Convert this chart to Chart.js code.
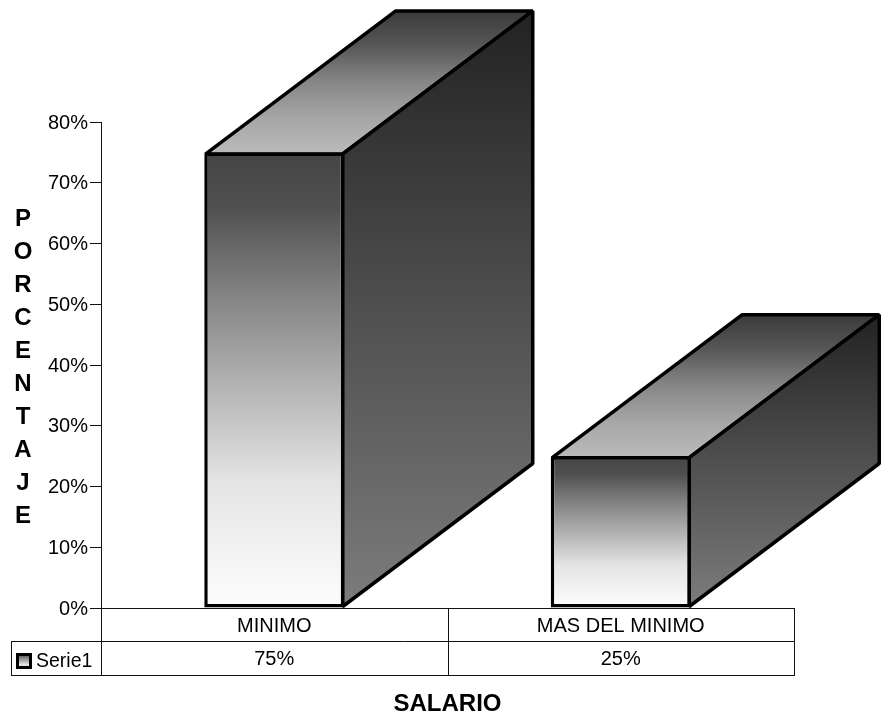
<!DOCTYPE html>
<html lang="es">
<head>
<meta charset="utf-8">
<title>Salario</title>
<script src="https://cdn.jsdelivr.net/npm/chart.js@4"></script>
<style>
    html, body { margin: 0; padding: 0; background: #fff; }
    canvas { display: block; }
</style>
</head>
<body>
<canvas id="salarioChart" width="885" height="720"></canvas>
<script>
// Datos del grafico
const categorias = ['MINIMO', 'MAS DEL MINIMO'];
const valores = [75, 25];
const serieNombre = 'Serie1';
const tituloX = 'SALARIO';
const tituloY = ['P', 'O', 'R', 'C', 'E', 'N', 'T', 'A', 'J', 'E'];

const FUENTE = '"Liberation Sans", Arial, sans-serif';
const PROF_X = 190;   // profundidad de la barra 3D
const PROF_Y = 143;

function degradado(ctx, y0, y1, paradas) {
    const g = ctx.createLinearGradient(0, y0, 0, y1);
    paradas.forEach(([pos, color]) => g.addColorStop(pos, color));
    return g;
}

const paradasFrente = [[0, '#444'], [0.12, '#505050'], [0.3, '#808080'], [0.5, '#b0b0b0'], [0.72, '#e4e4e4'], [1, '#fdfdfd']];
const paradasTapa = [[0, '#3a3a3a'], [0.25, '#585858'], [0.5, '#878787'], [0.75, '#a6a6a6'], [1, '#bbb']];
const paradasLado = [[0, '#222'], [1, '#7c7c7c']];

function rellenarCara(ctx, puntos, fill) {
    ctx.beginPath();
    puntos.forEach(([x, y], i) => (i ? ctx.lineTo(x, y) : ctx.moveTo(x, y)));
    ctx.closePath();
    ctx.fillStyle = fill;
    ctx.fill();
    ctx.stroke();
}

// Caras superior y lateral, se pintan antes del frente de la barra
const caras3D = {
    id: 'caras3D',
    beforeDatasetsDraw(chart) {
        const ctx = chart.ctx;
        ctx.save();
        ctx.strokeStyle = '#000';
        ctx.lineWidth = 3.5;
        ctx.lineJoin = 'bevel';
        chart.getDatasetMeta(0).data.forEach(bar => {
            const izq = bar.x - bar.width / 2 + 1.5;
            const der = bar.x + bar.width / 2 - 1.5;
            const sup = bar.y + 1.5;
            const inf = bar.base - 1;
            rellenarCara(ctx, [[izq, sup], [der, sup], [der + PROF_X, sup - PROF_Y], [izq + PROF_X, sup - PROF_Y]],
                degradado(ctx, sup - PROF_Y, sup, paradasTapa));
            rellenarCara(ctx, [[der, sup], [der + PROF_X, sup - PROF_Y], [der + PROF_X, inf - PROF_Y], [der, inf]],
                degradado(ctx, sup - PROF_Y, inf, paradasLado));
        });
        ctx.restore();
    }
};

// Tabla de datos bajo el eje X y titulos
const tablaDatos = {
    id: 'tablaDatos',
    afterDraw(chart) {
        const ctx = chart.ctx;
        const x = chart.scales.x;
        const yTop = chart.scales.y.bottom;
        const filaTop = yTop + 33;
        const filaBase = yTop + 67;
        const tablaIzq = 11;
        const mitad = (x.left + x.right) / 2;

        ctx.save();
        ctx.strokeStyle = '#111';
        ctx.lineWidth = 1;
        ctx.beginPath();
        [x.left, mitad, x.right].forEach(px => {
            const p = Math.round(px) + 0.5;
            ctx.moveTo(p, yTop);
            ctx.lineTo(p, filaBase);
        });
        ctx.moveTo(tablaIzq + 0.5, filaTop + 0.5);
        ctx.lineTo(x.right + 1, filaTop + 0.5);
        ctx.moveTo(tablaIzq + 0.5, filaTop);
        ctx.lineTo(tablaIzq + 0.5, filaBase);
        ctx.moveTo(tablaIzq, filaBase + 0.5);
        ctx.lineTo(x.right + 1, filaBase + 0.5);
        ctx.stroke();

        ctx.fillStyle = '#000';
        ctx.font = '20px ' + FUENTE;
        ctx.textBaseline = 'middle';
        ctx.textAlign = 'center';
        valores.forEach((v, i) => {
            ctx.fillText(v + '%', x.getPixelForTick(i), filaTop + 18);
        });

        // Leyenda dentro de la tabla
        ctx.font = '19.5px ' + FUENTE;
        ctx.textAlign = 'left';
        ctx.fillText(serieNombre, 36, filaTop + 21);
        ctx.fillStyle = degradado(ctx, filaTop + 12, filaTop + 28, paradasFrente);
        ctx.fillRect(16, filaTop + 12, 16, 16);
        ctx.lineWidth = 3;
        ctx.strokeStyle = '#000';
        ctx.strokeRect(17.5, filaTop + 13.5, 13, 13);

        // Titulo vertical, letra por letra
        ctx.font = 'bold 24px ' + FUENTE;
        ctx.textAlign = 'center';
        ctx.fillStyle = '#000';
        tituloY.forEach((letra, i) => {
            ctx.fillText(letra, 23, 219 + i * 33);
        });
        ctx.restore();
    }
};

new Chart(document.getElementById('salarioChart').getContext('2d'), {
    type: 'bar',
    data: {
        labels: categorias,
        datasets: [{
            label: serieNombre,
            data: valores,
            barPercentage: 0.404,
            categoryPercentage: 1,
            borderWidth: 3.5,
            borderColor: '#000',
            borderSkipped: false,
            backgroundColor(context) {
                const { chart, dataIndex } = context;
                const y = chart.scales.y;
                if (!y || dataIndex === undefined) return '#888';
                const arriba = y.getPixelForValue(valores[dataIndex]);
                if (!isFinite(arriba) || !isFinite(y.bottom)) return '#888';
                return degradado(chart.ctx, arriba, y.bottom, paradasFrente);
            }
        }]
    },
    options: {
        responsive: false,
        animation: false,
        layout: { padding: { top: 122, right: 91, left: 0, bottom: 0 }, autoPadding: false },
        plugins: {
            legend: { display: false },
            title: { display: false },
            tooltip: { enabled: false }
        },
        scales: {
            y: {
                min: 0,
                max: 80,
                afterFit(scale) { scale.width = 101; },
                grid: { drawOnChartArea: false, color: '#111', tickLength: 11, lineWidth: 1 },
                border: { color: '#111' },
                ticks: {
                    stepSize: 10,
                    padding: 2,
                    labelOffset: 1,
                    color: '#000',
                    font: { family: FUENTE, size: 20 },
                    callback: v => v + '%'
                }
            },
            x: {
                afterFit(scale) { scale.height = 112; },
                grid: { display: false },
                border: { color: '#111' },
                ticks: {
                    padding: -2,
                    color: '#000',
                    maxRotation: 0,
                    font: { family: FUENTE, size: 20 }
                },
                title: {
                    display: true,
                    text: tituloX,
                    color: '#000',
                    font: { family: FUENTE, size: 24, weight: 'bold' },
                    padding: { top: 0, bottom: 1 }
                }
            }
        }
    },
    plugins: [caras3D, tablaDatos]
});
</script>
</body>
</html>
